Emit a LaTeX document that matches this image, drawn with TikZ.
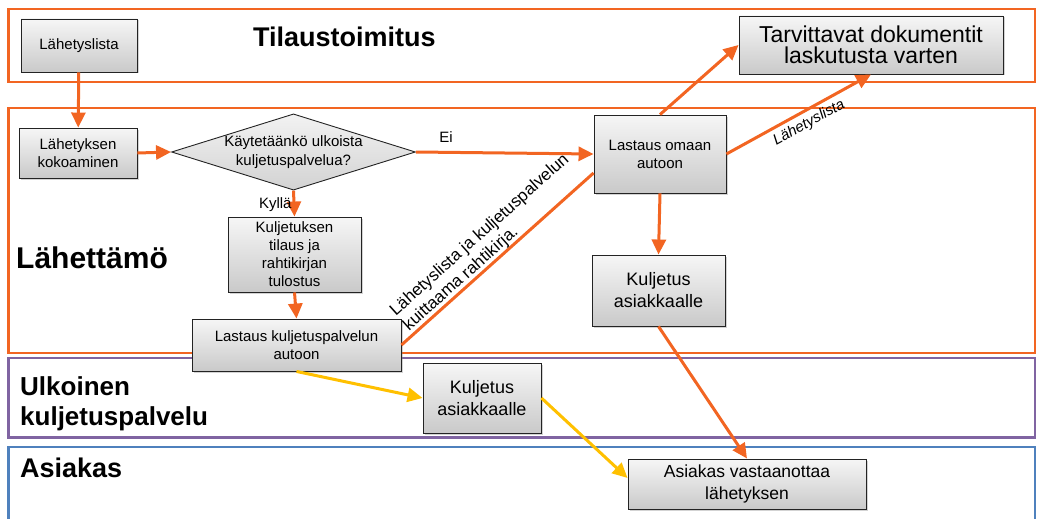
\documentclass[tikz,border=0pt]{standalone}
\usepackage{fontspec}
\setmainfont{Liberation Sans}
\usetikzlibrary{arrows.meta,shapes.geometric,shadows,calc}
\definecolor{laneorange}{RGB}{242,101,34}
\definecolor{lanepurple}{RGB}{128,100,162}
\definecolor{laneblue}{RGB}{79,129,189}
\definecolor{flowyellow}{RGB}{255,192,0}
\definecolor{boxedge}{RGB}{35,35,35}

\begin{document}
\begin{tikzpicture}[x=1pt,y=-1pt,
  lane/.style={line width=2.5pt},
  lanetitle/.style={anchor=base west, inner sep=0pt, font=\bfseries\fontsize{27}{30}\selectfont},
  stepbox/.style={draw=boxedge, line width=0.9pt, top color=gray!7, bottom color=gray!42,
    drop shadow={shadow xshift=1.5pt, shadow yshift=-1.5pt, opacity=0.35},
    align=center, inner sep=2pt, font=\fontsize{15}{18}\selectfont},
  bigstep/.style={stepbox, font=\fontsize{18}{22}\selectfont},
  decision/.style={diamond, draw=boxedge, line width=0.9pt, top color=gray!10, bottom color=gray!35,
    aspect=3.2, inner sep=0pt, minimum width=243pt, minimum height=76pt,
    align=center, font=\fontsize{15}{19}\selectfont},
  tip/.style={-{Triangle[length=15pt,width=14pt]}},
  flow/.style={draw=laneorange, line width=3pt, tip},
  extflow/.style={draw=flowyellow, line width=3pt, tip},
  flowlabel/.style={font=\fontsize{15}{18}\selectfont, inner sep=1pt}
]
\useasboundingbox (0,0) rectangle (1037,519);

% swimlanes
\draw[lane, laneorange] (8.5,9) rectangle (1035,82);
\draw[lane, laneorange] (8.5,108) rectangle (1035,353);
\draw[lane, lanepurple] (8.5,358) rectangle (1035,437.5);
\draw[lane, laneblue] (8.5,530) -- (8.5,447) -- (1035,447) -- (1035,530);

% lane titles
\node[lanetitle] (tTilaus) at (253,46.5) {Tilaustoimitus};
\node[lanetitle, font=\bfseries\fontsize{30}{32}\selectfont] (tLahettamo) at (16,268) {Lähettämö};
\node[lanetitle, font=\bfseries\fontsize{26}{30}\selectfont] (tUlk1) at (20,395) {Ulkoinen};
\node[lanetitle, font=\bfseries\fontsize{26}{30}\selectfont] (tUlk2) at (20,425) {kuljetuspalvelu};
\node[lanetitle] (tAsiakas) at (20,477) {Asiakas};

% process steps
\node[stepbox, minimum width=116pt, minimum height=53pt] (lista) at (79,45.5) {Lähetyslista};
\node[bigstep, minimum width=264pt, minimum height=58pt, font=\fontsize{23}{21}\selectfont] (tarv) at (871,45) {Tarvittavat dokumentit\\laskutusta varten};
\node[stepbox, minimum width=118pt, minimum height=50pt] (kok) at (78,153) {Lähetyksen\\kokoaminen};
\node[decision] (dia) at (293.5,152) {Käytetäänkö ulkoista\\kuljetuspalvelua?};
\node[stepbox, minimum width=132pt, minimum height=78pt] (omaan) at (660,154) {Lastaus omaan\\autoon};
\node[stepbox, minimum width=133pt, minimum height=75pt] (kultil) at (294.5,254.5) {Kuljetuksen\\tilaus ja\\rahtikirjan\\tulostus};
\node[stepbox, minimum width=209pt, minimum height=52pt] (lkp) at (296.5,345) {Lastaus kuljetuspalvelun\\autoon};
\node[bigstep, minimum width=133pt, minimum height=71pt] (kasr) at (658.5,290.5) {Kuljetus\\asiakkaalle};
\node[bigstep, minimum width=118pt, minimum height=70pt] (kasu) at (482,398) {Kuljetus\\asiakkaalle};
\node[bigstep, minimum width=238pt, minimum height=50pt, font=\fontsize{17.5}{22}\selectfont] (vast) at (747,484) {Asiakas vastaanottaa\\lähetyksen};

% connectors
\draw[flow] (lista) -- (kok);
\draw[flow] (kok.east) -- (dia.west);
\draw[flow] (dia.east) -- node[flowlabel, pos=0.17, yshift=15pt] {Ei} (omaan.west);
\draw[flow] (dia.south) -- node[flowlabel, pos=0.55, left] {Kyllä} (kultil.north);
\draw[flow] (kultil.south) -- (lkp.north);
\draw[draw=laneorange, line width=3pt] (lkp.east) -- node[pos=0.51, sloped, anchor=south, inner sep=0pt, align=left, font=\fontsize{17}{20}\selectfont] {Lähetyslista ja kuljetuspalvelun\\kuittaama rahtikirja.} ($(omaan.west)+(0,19)$);
\draw[flow] (omaan.north) -- (tarv.west);
\draw[flow] (omaan.east) -- node[flowlabel, pos=0.53, sloped, below, inner sep=4pt, font=\itshape\fontsize{15}{18}\selectfont] {Lähetyslista} (tarv.south);
\draw[flow] (omaan.south) -- (kasr.north);
\draw[flow] (kasr.south) -- (vast.north);
\draw[extflow] (lkp.south) -- (kasu.west);
\draw[extflow] (kasu.east) -- ($(vast.west)+(0,-6)$);
\end{tikzpicture}
\end{document}
